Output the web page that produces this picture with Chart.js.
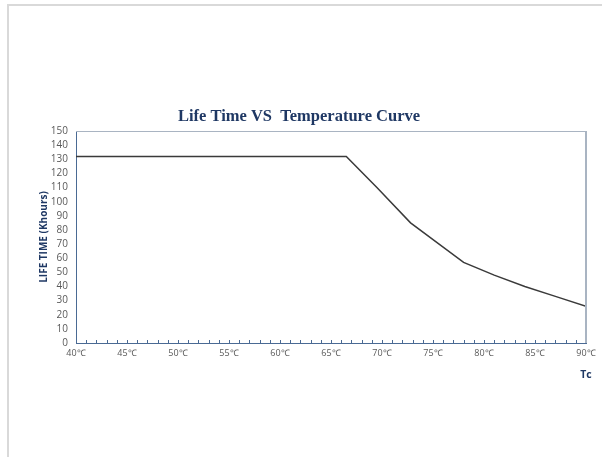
<!DOCTYPE html>
<html>
<head>
<meta charset="utf-8">
<script src="https://cdn.jsdelivr.net/npm/chart.js@4"></script>
<style>
    html, body { margin: 0; padding: 0; background: #fff; }
    .frame {
        position: absolute; left: 7px; top: 4px; width: 602px; height: 460px;
        border-top: 2px solid #d9d9d9; border-left: 2px solid #d9d9d9;
    }
    #chart { position: absolute; left: 0; top: 0; }
</style>
</head>
<body>
<div class="frame"></div>
<canvas id="chart" width="602" height="457"></canvas>
<script>
// Life time vs case temperature
const temps = [40, 66.5, 69.5, 72.8, 78, 81, 84, 87, 90];
const lifeKh = [132, 132, 110, 85, 57, 48, 40, 33, 26];
const yTicks = { min: 0, max: 150, step: 10 };
const xTicks = { min: 40, max: 90, step: 1, labelEvery: 5 };

const axisBlue = '#4a6a94';
const boxGrey = '#a9b4c2';

// Inner tick marks, frame box and "Tc" label
const decorations = {
    id: 'decorations',
    afterDraw(chart) {
        const { ctx, chartArea: a, scales: { x } } = chart;
        ctx.save();
        ctx.strokeStyle = axisBlue;
        ctx.lineWidth = 1;
        ctx.beginPath();
        for (let v = xTicks.min + 1; v <= xTicks.max; v++) {
            const px = Math.round(x.getPixelForValue(v)) + 0.5;
            ctx.moveTo(px, a.bottom);
            ctx.lineTo(px, a.bottom - 3);
        }
        ctx.stroke();

        ctx.strokeStyle = boxGrey;
        ctx.lineWidth = 1;
        ctx.beginPath();
        ctx.moveTo(a.left, a.top + 0.5);
        ctx.lineTo(a.right, a.top + 0.5);
        ctx.stroke();
        ctx.lineWidth = 2;
        ctx.beginPath();
        ctx.moveTo(a.right, a.top);
        ctx.lineTo(a.right, a.bottom);
        ctx.stroke();

        ctx.fillStyle = '#1f3864';
        ctx.font = 'bold 10.5px "Open Sans"';
        ctx.textAlign = 'center';
        ctx.textBaseline = 'middle';
        ctx.fillText('Tc', a.right, 375);
        ctx.restore();
    }
};

new Chart(document.getElementById('chart'), {
    type: 'line',
    data: {
        datasets: [{
            data: temps.map((t, i) => ({ x: t, y: lifeKh[i] })),
            borderColor: '#3a3a3a',
            borderWidth: 1.5,
            pointRadius: 0,
            tension: 0,
            fill: false
        }]
    },
    options: {
        responsive: false,
        animation: false,
        layout: { padding: { left: 12, right: 16, top: 0, bottom: 0 } },
        plugins: {
            legend: { display: false },
            tooltip: { enabled: false },
            title: {
                display: true,
                text: 'Life Time VS  Temperature Curve',
                color: '#1f3864',
                font: { family: '"Liberation Serif", "Times New Roman", serif', size: 16.5, weight: 'bold', lineHeight: 1.2 },
                padding: { top: 107, bottom: 131 - 107 - 19.8 }
            }
        },
        scales: {
            x: {
                type: 'linear',
                min: xTicks.min,
                max: xTicks.max,
                border: { color: axisBlue, width: 1 },
                grid: { drawOnChartArea: false, drawTicks: false },
                ticks: {
                    stepSize: xTicks.step,
                    autoSkip: false,
                    maxRotation: 0,
                    padding: 5,
                    color: '#595959',
                    font: { family: '"Open Sans"', size: 9 },
                    callback: v => (v % xTicks.labelEvery === 0 ? v + '℃' : '')
                },
                afterFit(scale) { scale.height = 457 - 343; }
            },
            y: {
                min: yTicks.min,
                max: yTicks.max,
                border: { color: axisBlue, width: 1 },
                grid: { drawOnChartArea: false, drawTicks: false },
                ticks: {
                    stepSize: yTicks.step,
                    autoSkip: false,
                    padding: 8,
                    color: '#595959',
                    font: { family: '"Open Sans"', size: 10 }
                },
                title: {
                    display: true,
                    text: 'LIFE TIME (Khours)',
                    color: '#1f3864',
                    font: { family: '"Open Sans"', size: 10, weight: 'bold', lineHeight: 1.2 },
                    padding: { top: 26, bottom: 0 }
                },
                afterFit(scale) { scale.width = 64; }
            }
        }
    },
    plugins: [decorations]
});
</script>
</body>
</html>
